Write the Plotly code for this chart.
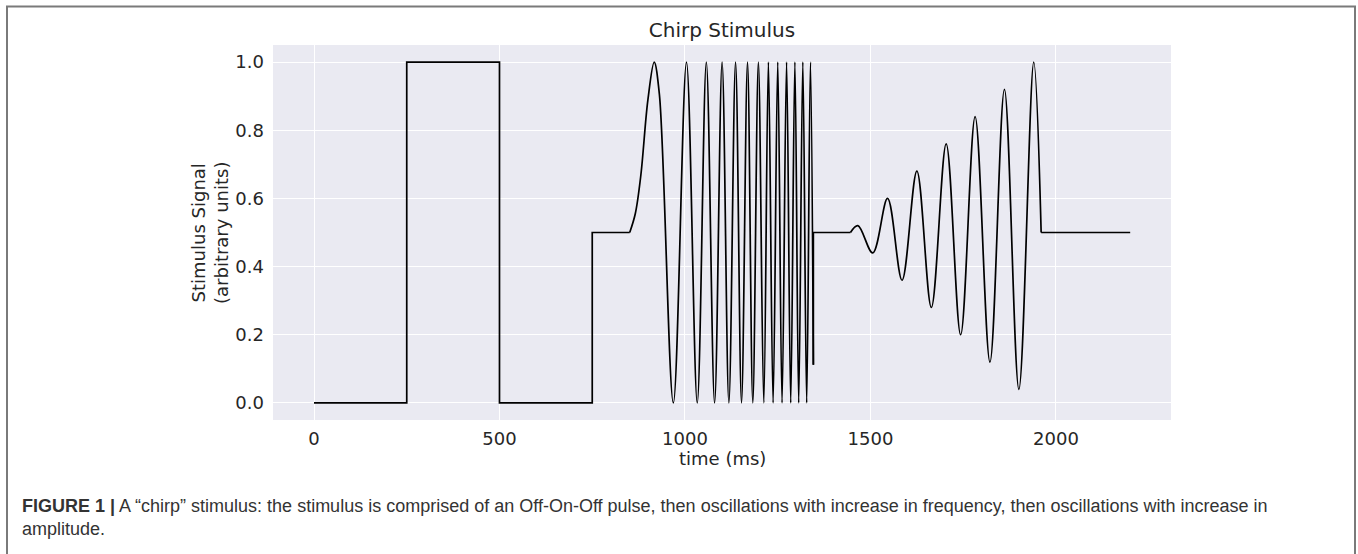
import plotly.graph_objects as go

# Off-On-Off pulse and the steps around it (time in ms, signal level)
pulse_t = [0, 250, 250, 500, 500, 750, 750, 851]
pulse_v = [0.0, 0.0, 1.0, 1.0, 0.0, 0.0, 0.5, 0.5]

# Frequency sweep: onset, then successive crests and troughs
fm_t = [851, 866, 881, 900, 917, 931, 968.6, 1004, 1033, 1057.5, 1079.8, 1100,
        1118.3, 1136.3, 1152.4, 1168.5, 1182.8, 1197.8, 1212.4, 1224.8, 1237.5,
        1250, 1261.6, 1273.8, 1285, 1296.2, 1306.5, 1317.6, 1328, 1338.1, 1346]
fm_v = [0.5, 0.555, 0.668, 0.889, 1.0, 0.905, 0.0, 1.0, 0.0, 1.0, 0.0, 1.0,
        0.0, 1.0, 0.0, 1.0, 0.0, 1.0, 0.0, 1.0, 0.0,
        1.0, 0.0, 1.0, 0.0, 1.0, 0.0, 1.0, 0.0, 1.0, 0.112]

# Return to mid-level between the two sweeps
mid_t = [1346, 1346, 1446]
mid_v = [0.112, 0.5, 0.5]

# Amplitude sweep: crests and troughs growing around 0.5
am_t = [1446, 1466, 1506, 1546, 1585, 1625, 1664, 1704, 1743, 1782, 1822, 1861, 1900, 1940, 1960]
am_v = [0.5, 0.52, 0.44, 0.60, 0.36, 0.68, 0.28, 0.76, 0.20, 0.84, 0.12, 0.92, 0.04, 1.0, 0.5]

# Final mid-level hold
tail_t = [1960, 2200]
tail_v = [0.5, 0.5]

x_ticks = [0, 500, 1000, 1500, 2000]
y_ticks = [0.0, 0.2, 0.4, 0.6, 0.8, 1.0]

TEXT = "#262626"
LINE = dict(color="black", width=1.7)

fig = go.Figure()
fig.add_trace(go.Scatter(x=pulse_t, y=pulse_v, mode="lines", line=LINE))
fig.add_trace(go.Scatter(x=fm_t, y=fm_v, mode="lines", line=dict(LINE, shape="spline", smoothing=1.0)))
fig.add_trace(go.Scatter(x=mid_t, y=mid_v, mode="lines", line=LINE))
fig.add_trace(go.Scatter(x=am_t, y=am_v, mode="lines", line=dict(LINE, shape="spline", smoothing=1.0)))
fig.add_trace(go.Scatter(x=tail_t, y=tail_v, mode="lines", line=LINE))

W, H = 1358, 554
L, R, T, B = 273, 187, 45, 134
pw, ph = W - L - R, H - T - B


def px_x(px):
    return (px - L) / pw


def px_y(py):
    return (H - B - py) / ph


fig.update_layout(
    width=W, height=H,
    margin=dict(l=L, r=R, t=T, b=B, pad=0),
    paper_bgcolor="white",
    plot_bgcolor="#EAEAF2",
    showlegend=False,
    font=dict(family="DejaVu Sans", color=TEXT, size=18),
    title=dict(text="Chirp Stimulus", x=722 / W, xanchor="center",
               y=1 - 30 / H, yanchor="middle", yref="container",
               font=dict(family="DejaVu Sans", size=20, color=TEXT)),
    xaxis=dict(range=[-110.5, 2310], tickvals=x_ticks, ticktext=[str(v) for v in x_ticks],
               showgrid=True, gridcolor="white", gridwidth=1.3, zeroline=False,
               showline=False, ticks="", ticklabelstandoff=6,
               tickfont=dict(family="DejaVu Sans", size=18, color=TEXT)),
    yaxis=dict(range=[-0.05, 1.05], tickvals=y_ticks, ticktext=[f"{v:.1f}" for v in y_ticks],
               showgrid=True, gridcolor="white", gridwidth=1.3, zeroline=False,
               showline=False, ticks="", ticklabelstandoff=8,
               tickfont=dict(family="DejaVu Sans", size=18, color=TEXT)),
)

# Axis titles
fig.add_annotation(text="time (ms)", xref="paper", yref="paper", x=0.5, y=px_y(458),
                   xanchor="center", yanchor="middle", showarrow=False,
                   font=dict(family="DejaVu Sans", size=18, color=TEXT))
fig.add_annotation(text="Stimulus Signal<br>(arbitrary units)", xref="paper", yref="paper",
                   x=px_x(210), y=px_y(233), xanchor="center", yanchor="middle",
                   textangle=-90, showarrow=False,
                   font=dict(family="DejaVu Sans", size=18, color=TEXT))

# Caption below the chart
CAP = "#333333"
fig.add_annotation(
    text="<b>FIGURE 1 |</b> A “chirp” stimulus: the stimulus is comprised of an Off-On-Off pulse, "
         "then oscillations with increase in frequency, then oscillations with increase in",
    xref="paper", yref="paper", x=px_x(20), y=px_y(518), xanchor="left", yanchor="bottom",
    showarrow=False, font=dict(family="Liberation Sans", size=18, color=CAP))
fig.add_annotation(
    text="amplitude.", xref="paper", yref="paper", x=px_x(20), y=px_y(541),
    xanchor="left", yanchor="bottom", showarrow=False,
    font=dict(family="Liberation Sans", size=18, color=CAP))

# Frame around the whole figure
fig.add_shape(type="rect", xref="paper", yref="paper",
              x0=px_x(7), x1=px_x(1355), y0=px_y(600), y1=px_y(6.5),
              line=dict(color="#7a7a7a", width=2), fillcolor="rgba(0,0,0,0)", layer="above")

fig.write_html("out.html")
